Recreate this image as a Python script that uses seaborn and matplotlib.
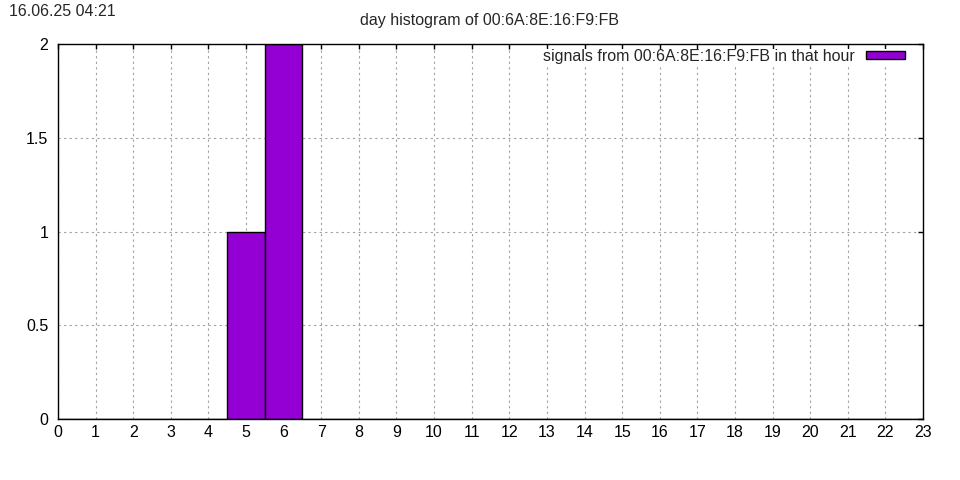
import numpy as np
import pandas as pd
import matplotlib
matplotlib.use("Agg")
import matplotlib.pyplot as plt
import seaborn as sns
from matplotlib.patches import Patch

sns.set_style("white")
plt.rcParams['font.family'] = ['Liberation Sans', 'DejaVu Sans']

hours = list(range(24))
counts = [0, 0, 0, 0, 0, 1, 2, 0, 0, 0, 0, 0, 0, 0, 0, 0, 0, 0, 0, 0, 0, 0, 0, 0]
ytick_vals = [0, 0.5, 1, 1.5, 2]
ytick_labels = ["0", "0.5", "1", "1.5", "2"]
title = "day histogram of 00:6A:8E:16:F9:FB"
stamp = "16.06.25 04:21"
legend_label = "signals from 00:6A:8E:16:F9:FB in that hour"
bar_color = "#9400D3"

df = pd.DataFrame({"hour": hours, "count": counts})

FS = 11.5
fig = plt.figure(figsize=(9.6, 4.8), dpi=100)
ax = fig.add_axes([58/960, 1-419/480, (923-58)/960, (419-44)/480])

sns.histplot(data=df, x="hour", weights="count", discrete=True,
             color=bar_color, alpha=1, edgecolor="black", linewidth=1,
             ax=ax, zorder=3)

ax.set_xlim(0, 23)
ax.set_ylim(0, 2)
ax.set_xticks(hours)
ax.set_xticklabels([str(h) for h in hours])
ax.set_yticks(ytick_vals)
ax.set_yticklabels(ytick_labels)
ax.set_xlabel("")
ax.set_ylabel("")
ax.grid(True, color="#a0a0a0", linestyle=(0, (2, 3)), linewidth=0.8, zorder=0)
ax.set_axisbelow(True)
ax.tick_params(direction="in", length=3.5, width=1, top=True, right=True,
               labelsize=FS, colors="black")
ax.tick_params(axis="x", pad=4)
ax.tick_params(axis="y", pad=7)
for s in ax.spines.values():
    s.set_color("black")
    s.set_linewidth(1)
    s.set_zorder(5)

handle = Patch(facecolor=bar_color, edgecolor="black", linewidth=1)
leg = ax.legend(handles=[handle], labels=[legend_label], loc="upper right",
                bbox_to_anchor=(1 - 10.2/865, 1 + 3.2/375), frameon=True,
                fontsize=FS, handlelength=2.45, handleheight=0.4,
                handletextpad=0.7, borderpad=0.0, markerfirst=False)
leg.get_frame().set_facecolor("white")
leg.get_frame().set_edgecolor("none")
leg.get_frame().set_alpha(1)
leg.set_zorder(4)

fig.text(490/960, 1-21/480, title, ha="center", va="center", fontsize=FS)
fig.text(9/960, 1-12/480, stamp, ha="left", va="center", fontsize=FS)

fig.savefig("out.png", dpi=100)
